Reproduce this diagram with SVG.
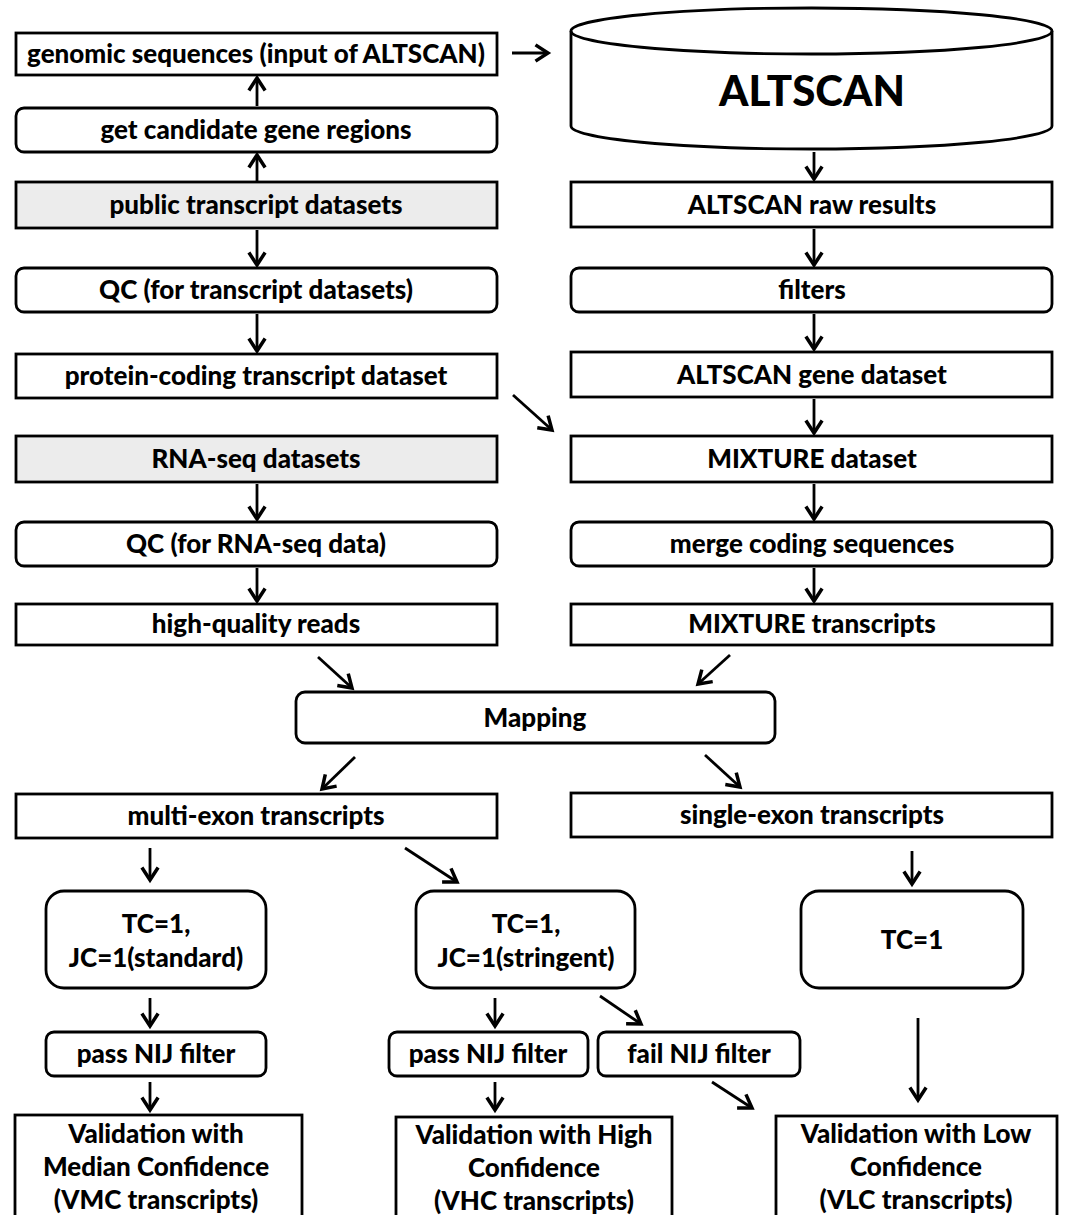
<svg xmlns="http://www.w3.org/2000/svg" width="1072" height="1215" viewBox="0 0 1072 1215">
<defs>
<style>
.b{fill:#fff;stroke:#000;stroke-width:2.8}
.g{fill:#ececec;stroke:#000;stroke-width:2.8}
.t{font-family:Lato,"Open Sans","Liberation Sans",sans-serif;font-weight:900;font-size:26px;fill:#000;text-anchor:middle}
.c line{stroke:#000;stroke-width:2.8;marker-end:url(#ah)}
</style>
<marker id="ah" markerUnits="userSpaceOnUse" markerWidth="20" markerHeight="20" viewBox="-12 -8 14 16" refX="0" refY="0" orient="auto">
<path d="M-10,-6.5 L0,0 L-10,6.5" fill="none" stroke="#000" stroke-width="2.8"/>
</marker>
</defs>
<rect width="1072" height="1215" fill="#fff"/>

<g id="genomic"><rect class="b" x="16" y="33" width="481" height="42"/><text class="t" x="256" y="63">genomic sequences (input of ALTSCAN)</text></g>
<g id="altscan"><path class="b" d="M571,31 L571,126 A240.5,23 0 0 0 1052,126 L1052,31 A240.5,23 0 0 0 571,31 Z"/><path d="M571,31 A240.5,23 0 0 0 1052,31" fill="none" stroke="#000" stroke-width="2.8"/><text class="t" x="812" y="106" style="font-size:42px">ALTSCAN</text></g>
<g id="candidate"><rect class="b" x="16" y="108" width="481" height="44" rx="8"/><text class="t" x="256" y="139">get candidate gene regions</text></g>
<g id="public"><rect class="g" x="16" y="182" width="481" height="46"/><text class="t" x="256" y="214">public transcript datasets</text></g>
<g id="raw"><rect class="b" x="571" y="182" width="481" height="45"/><text class="t" x="812" y="214">ALTSCAN raw results</text></g>
<g id="qc1"><rect class="b" x="16" y="268" width="481" height="44" rx="8"/><text class="t" x="256" y="299">QC (for transcript datasets)</text></g>
<g id="filters"><rect class="b" x="571" y="268" width="481" height="44" rx="8"/><text class="t" x="812" y="299">filters</text></g>
<g id="protein"><rect class="b" x="16" y="354" width="481" height="44"/><text class="t" x="256" y="385">protein-coding transcript dataset</text></g>
<g id="genedataset"><rect class="b" x="571" y="352" width="481" height="45"/><text class="t" x="812" y="384">ALTSCAN gene dataset</text></g>
<g id="rnaseq"><rect class="g" x="16" y="436" width="481" height="46"/><text class="t" x="256" y="468">RNA-seq datasets</text></g>
<g id="mixture"><rect class="b" x="571" y="436" width="481" height="46"/><text class="t" x="812" y="468">MIXTURE dataset</text></g>
<g id="qc2"><rect class="b" x="16" y="522" width="481" height="44" rx="8"/><text class="t" x="256" y="553">QC (for RNA-seq data)</text></g>
<g id="merge"><rect class="b" x="571" y="522" width="481" height="44" rx="8"/><text class="t" x="812" y="553">merge coding sequences</text></g>
<g id="reads"><rect class="b" x="16" y="604" width="481" height="41"/><text class="t" x="256" y="633">high-quality reads</text></g>
<g id="mixtrans"><rect class="b" x="571" y="604" width="481" height="41"/><text class="t" x="812" y="633">MIXTURE transcripts</text></g>
<g id="mapping"><rect class="b" x="296" y="692" width="479" height="51" rx="9"/><text class="t" x="535" y="727">Mapping</text></g>
<g id="multi"><rect class="b" x="16" y="794" width="481" height="44"/><text class="t" x="256" y="825">multi-exon transcripts</text></g>
<g id="single"><rect class="b" x="571" y="793" width="481" height="44"/><text class="t" x="812" y="824">single-exon transcripts</text></g>
<g id="standard"><rect class="b" x="46" y="891" width="220" height="97" rx="18"/><text class="t" x="156" y="933">TC=1,</text><text class="t" x="156" y="967">JC=1(standard)</text></g>
<g id="stringent"><rect class="b" x="416" y="891" width="219" height="97" rx="18"/><text class="t" x="526" y="933">TC=1,</text><text class="t" x="526" y="967">JC=1(stringent)</text></g>
<g id="tc1"><rect class="b" x="801" y="891" width="222" height="97" rx="18"/><text class="t" x="912" y="949">TC=1</text></g>
<g id="pass1"><rect class="b" x="46" y="1032" width="220" height="44" rx="8"/><text class="t" x="156" y="1063">pass NIJ filter</text></g>
<g id="pass2"><rect class="b" x="389" y="1032" width="199" height="44" rx="8"/><text class="t" x="488" y="1063">pass NIJ filter</text></g>
<g id="fail"><rect class="b" x="598" y="1032" width="202" height="44" rx="8"/><text class="t" x="699" y="1063">fail NIJ filter</text></g>
<g id="vmc"><rect class="b" x="15" y="1115" width="287" height="115"/><text class="t" x="156" y="1143">Validation with</text><text class="t" x="156" y="1176">Median Confidence</text><text class="t" x="156" y="1209">(VMC transcripts)</text></g>
<g id="vhc"><rect class="b" x="396" y="1117" width="276" height="113"/><text class="t" x="534" y="1144">Validation with High</text><text class="t" x="534" y="1177">Confidence</text><text class="t" x="534" y="1210">(VHC transcripts)</text></g>
<g id="vlc"><rect class="b" x="776" y="1116" width="281" height="114"/><text class="t" x="916" y="1143">Validation with Low</text><text class="t" x="916" y="1176">Confidence</text><text class="t" x="916" y="1209">(VLC transcripts)</text></g>

<g class="c" id="connectors">
<line x1="512" y1="53" x2="548" y2="53"/>
<line x1="257" y1="106" x2="257" y2="78"/>
<line x1="257" y1="181" x2="257" y2="155"/>
<line x1="814" y1="152" x2="814" y2="179"/>
<line x1="257" y1="230" x2="257" y2="265"/>
<line x1="814" y1="229" x2="814" y2="265"/>
<line x1="257" y1="314" x2="257" y2="351"/>
<line x1="814" y1="314" x2="814" y2="349"/>
<line x1="513" y1="395" x2="552" y2="430"/>
<line x1="814" y1="399" x2="814" y2="433"/>
<line x1="257" y1="484" x2="257" y2="519"/>
<line x1="814" y1="484" x2="814" y2="519"/>
<line x1="257" y1="568" x2="257" y2="601"/>
<line x1="814" y1="568" x2="814" y2="601"/>
<line x1="318" y1="657" x2="352" y2="688"/>
<line x1="730" y1="655" x2="698" y2="684"/>
<line x1="355" y1="757" x2="322" y2="789"/>
<line x1="705" y1="755" x2="740" y2="787"/>
<line x1="150" y1="848" x2="150" y2="880"/>
<line x1="405" y1="848" x2="457" y2="882"/>
<line x1="912" y1="851" x2="912" y2="884"/>
<line x1="150" y1="998" x2="150" y2="1026"/>
<line x1="495" y1="998" x2="495" y2="1026"/>
<line x1="600" y1="996" x2="641" y2="1024"/>
<line x1="918" y1="1018" x2="918" y2="1100"/>
<line x1="150" y1="1082" x2="150" y2="1110"/>
<line x1="495" y1="1082" x2="495" y2="1110"/>
<line x1="712" y1="1082" x2="752" y2="1108"/>
</g>
</svg>
